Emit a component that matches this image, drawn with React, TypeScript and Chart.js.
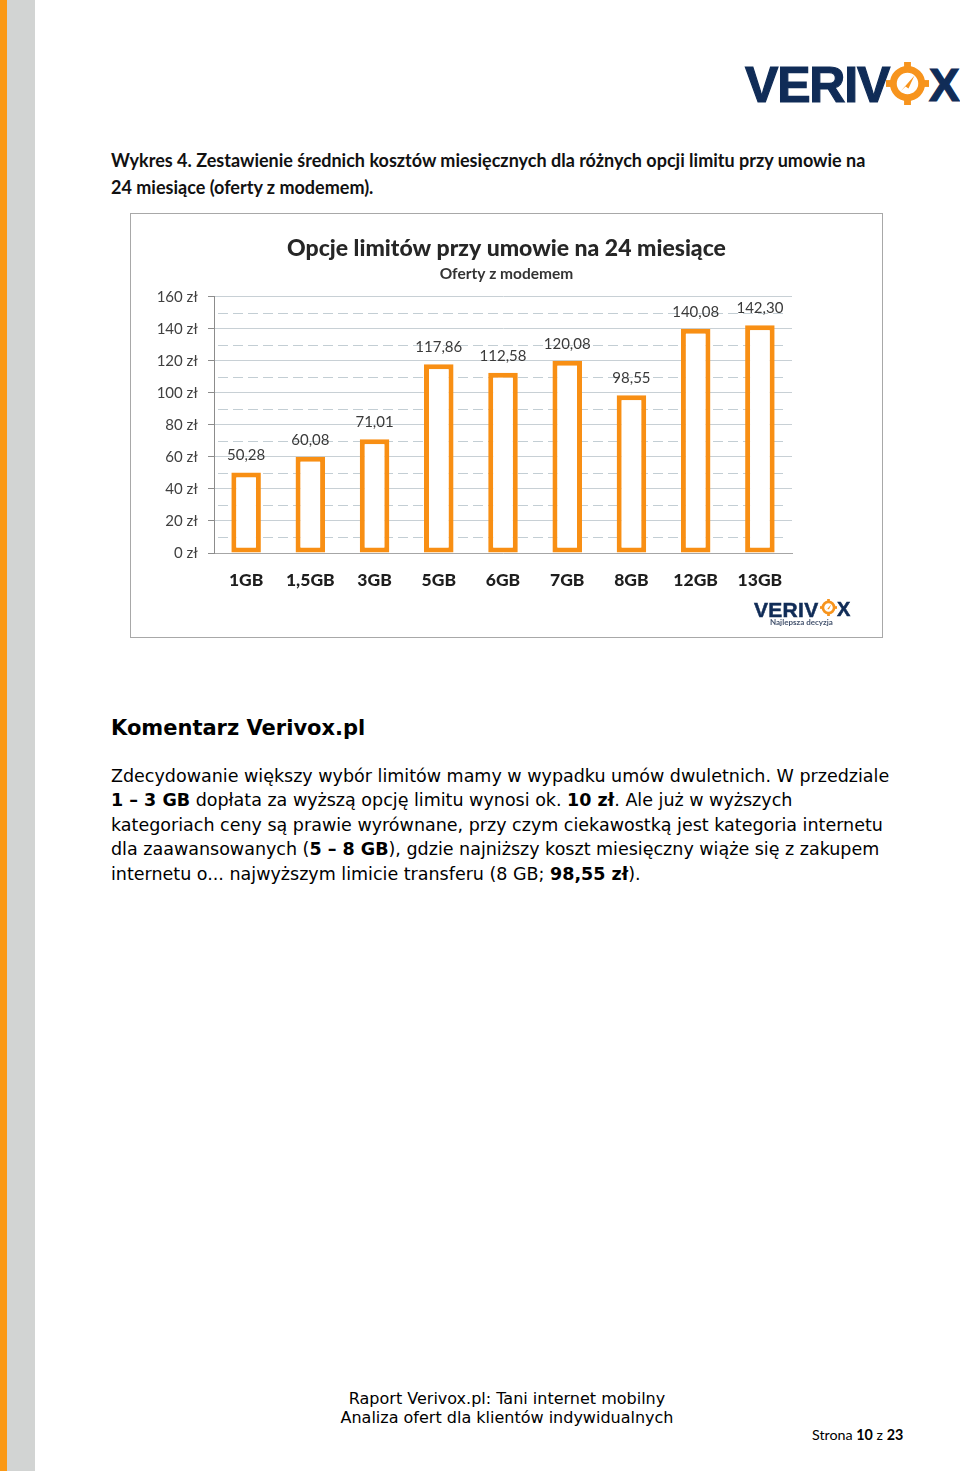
import React, { useEffect, useRef } from 'react';
import { Chart, registerables } from 'chart.js';

Chart.register(...registerables);

// ---- data ----
const categories = ['1GB', '1,5GB', '3GB', '5GB', '6GB', '7GB', '8GB', '12GB', '13GB'];
const monthlyCost = [50.28, 60.08, 71.01, 117.86, 112.58, 120.08, 98.55, 140.08, 142.3];
const yMax = 160;
const yStep = 10;
const yLabelStep = 20;
const chartTitle = 'Opcje limitów przy umowie na 24 miesiące';
const chartSubtitle = 'Oferty z modemem';

const ORANGE = '#f88f14';
const NAVY = '#102c57';
const LOGO_ORANGE = '#f7941d';

const fmt = (v: number) => v.toFixed(2).replace('.', ',');

const valueLabels = {
  id: 'valueLabels',
  afterDatasetsDraw(chart: any) {
    const { ctx } = chart;
    const meta = chart.getDatasetMeta(0);
    ctx.save();
    ctx.font = '15px Lato';
    ctx.fillStyle = '#3a3a3a';
    ctx.textAlign = 'center';
    ctx.textBaseline = 'middle';
    meta.data.forEach((bar: any, i: number) => {
      const v = chart.data.datasets[0].data[i] as number;
      ctx.fillText(fmt(v), bar.x, bar.y - 17);
    });
    ctx.restore();
  },
};

const dashedMinorGrid = {
  id: 'dashedMinorGrid',
  beforeDatasetsDraw(chart: any) {
    const { ctx, chartArea, scales } = chart;
    const y = scales.y;
    ctx.save();
    ctx.strokeStyle = '#c3ced4';
    ctx.lineWidth = 1;
    ctx.setLineDash([10, 5]);
    y.ticks.forEach((t: any) => {
      if (t.value % yLabelStep !== 0) {
        const py = Math.round(y.getPixelForValue(t.value)) + 0.5;
        ctx.beginPath();
        ctx.moveTo(chartArea.left + 4, py);
        ctx.lineTo(chartArea.right - 4, py);
        ctx.stroke();
      }
    });
    ctx.restore();
  },
};

function CostChart() {
  const ref = useRef<HTMLCanvasElement | null>(null);
  useEffect(() => {
    let chart: Chart | null = null;
    let cancelled = false;
    const build = () => {
      if (cancelled || !ref.current) return;
      chart = new Chart(ref.current, {
        type: 'bar',
        data: {
          labels: categories,
          datasets: [
            {
              data: monthlyCost,
              backgroundColor: '#ffffff',
              borderColor: ORANGE,
              borderWidth: 5,
              borderSkipped: false,
              categoryPercentage: 1,
              barPercentage: 0.46,
            },
          ],
        },
        options: {
          animation: false,
          responsive: false,
          maintainAspectRatio: false,
          layout: { padding: 0 },
          plugins: {
            legend: { display: false },
            tooltip: { enabled: false },
            title: {
              display: true,
              text: chartTitle,
              color: '#262626',
              font: { family: 'Lato', size: 23, weight: 900 },
              padding: { top: 20.7, bottom: 1 },
            },
            subtitle: {
              display: true,
              text: chartSubtitle,
              color: '#333333',
              font: { family: 'Lato', size: 15.5, weight: 'bold' },
              padding: { top: 1.5, bottom: 13.5 },
            },
          },
          scales: {
            x: {
              afterFit: (s: any) => {
                s.height = 84;
              },
              grid: { display: true, drawOnChartArea: false, drawTicks: false },
              border: { display: true, color: '#a6a6a6' },
              ticks: {
                padding: 17,
                color: '#1e1e1e',
                autoSkip: false,
                maxRotation: 0,
                font: { family: 'Lato', size: 17.5, weight: 900 },
              },
            },
            y: {
              min: 0,
              max: yMax,
              afterFit: (s: any) => {
                s.width = 83;
              },
              ticks: {
                stepSize: yStep,
                autoSkip: false,
                padding: 10,
                color: '#404040',
                font: { family: 'Lato', size: 15 },
                callback: (v: any) => (Number(v) % yLabelStep === 0 ? `${v} zł` : ''),
              },
              grid: {
                color: (c: any) => (c.tick && c.tick.value % yLabelStep === 0 ? '#c8d0d5' : 'rgba(0,0,0,0)'),
                tickColor: (c: any) => (c.tick && c.tick.value % yLabelStep === 0 ? '#8c8c8c' : 'rgba(0,0,0,0)'),
                tickLength: 6,
                drawTicks: true,
              },
              border: { display: true, color: '#8c8c8c' },
            },
            yRightSpace: {
              type: 'linear',
              position: 'right',
              display: true,
              min: 0,
              max: yMax,
              afterFit: (s: any) => {
                s.width = 90;
              },
              ticks: { display: false },
              grid: { display: false, drawTicks: false },
              border: { display: false },
            },
          },
        },
        plugins: [dashedMinorGrid, valueLabels],
      } as any);
    };
    const fonts: any = (document as any).fonts;
    if (fonts && fonts.load) {
      Promise.all([
        fonts.load('900 23px Lato'),
        fonts.load('900 17px Lato'),
        fonts.load('bold 15px Lato'),
        fonts.load('15px Lato'),
      ])
        .catch(() => null)
        .then(build);
    } else {
      build();
    }
    return () => {
      cancelled = true;
      if (chart) chart.destroy();
    };
  }, []);
  return <canvas ref={ref} width={751} height={423} style={{ display: 'block', width: 751, height: 423 }} />;
}

function Compass({ size }: { size: number }) {
  return (
    <svg width={size} height={size} viewBox="0 0 44 44" style={{ display: 'block' }}>
      <circle cx="22" cy="22" r="14.5" fill="none" stroke={LOGO_ORANGE} strokeWidth="7" />
      <rect x="18.5" y="0" width="7" height="6" fill={LOGO_ORANGE} />
      <rect x="18.5" y="38" width="7" height="6" fill={LOGO_ORANGE} />
      <rect x="0" y="18.5" width="6" height="7" fill={LOGO_ORANGE} />
      <rect x="38" y="18.5" width="6" height="7" fill={LOGO_ORANGE} />
      <polygon points="15,30 29,14 23,27 20,25" fill={LOGO_ORANGE} />
    </svg>
  );
}

const abs = (left: number, top: number, extra: React.CSSProperties = {}): React.CSSProperties => ({
  position: 'absolute',
  left,
  top,
  whiteSpace: 'pre',
  ...extra,
});

const bodyLines: React.ReactNode[] = [
  <>Zdecydowanie większy wybór limitów mamy w wypadku umów dwuletnich. W przedziale</>,
  <>
    <b>1 – 3 GB</b> dopłata za wyższą opcję limitu wynosi ok. <b>10 zł</b>. Ale już w wyższych
  </>,
  <>kategoriach ceny są prawie wyrównane, przy czym ciekawostką jest kategoria internetu</>,
  <>
    dla zaawansowanych (<b>5 – 8 GB</b>), gdzie najniższy koszt miesięczny wiąże się z zakupem
  </>,
  <>
    internetu o... najwyższym limicie transferu (8 GB; <b>98,55 zł</b>).
  </>,
];

export default function App() {
  return (
    <div
      style={{
        position: 'absolute',
        left: 0,
        top: 0,
        width: 960,
        height: 1471,
        background: '#ffffff',
        overflow: 'hidden',
        color: '#000',
      }}
    >
      {/* side stripes */}
      <div style={abs(0, 0, { width: 7, height: 1471, background: '#fa9916' })} />
      <div style={abs(7, 0, { width: 28, height: 1471, background: '#d2d4d3' })} />

      {/* top logo */}
      <div
        style={abs(745, 59.5, {
          fontFamily: 'Liberation Sans',
          fontWeight: 'bold',
          fontSize: 50,
          lineHeight: '50px',
          letterSpacing: -1.2,
          color: NAVY,
          WebkitTextStroke: `1.2px ${NAVY}`,
        })}
      >
        VERIV
      </div>
      <div style={abs(886, 62)}>
        <Compass size={43} />
      </div>
      <div
        style={abs(929, 59.5, {
          fontFamily: 'Liberation Sans',
          fontWeight: 'bold',
          fontSize: 46,
          lineHeight: '50px',
          color: NAVY,
          WebkitTextStroke: `1.2px ${NAVY}`,
        })}
      >
        X
      </div>

      {/* caption */}
      <div
        style={abs(111, 146.5, {
          fontFamily: 'Lato',
          fontWeight: 'bold',
          fontSize: 18,
          lineHeight: '27px',
          color: '#111',
        })}
      >
        {'Wykres 4. Zestawienie średnich kosztów miesięcznych dla różnych opcji limitu przy umowie na\n24 miesiące (oferty z modemem).'}
      </div>

      {/* chart box */}
      <div
        style={abs(130, 213, {
          width: 753,
          height: 425,
          boxSizing: 'border-box',
          border: '1px solid #a8a8a8',
          background: '#fff',
        })}
      >
        <CostChart />
        {/* small logo inside chart */}
        <div
          style={abs(623, 384.5, {
            fontFamily: 'Liberation Sans',
            fontWeight: 'bold',
            fontSize: 21,
            lineHeight: '21px',
            letterSpacing: 0.3,
            color: NAVY,
            WebkitTextStroke: `0.5px ${NAVY}`,
          })}
        >
          VERIV
        </div>
        <div style={abs(689, 385)}>
          <Compass size={17} />
        </div>
        <div
          style={abs(706, 384.5, {
            fontFamily: 'Liberation Sans',
            fontWeight: 'bold',
            fontSize: 20,
            lineHeight: '21px',
            color: NAVY,
            WebkitTextStroke: `0.5px ${NAVY}`,
          })}
        >
          X
        </div>
        <div
          style={abs(639, 403, {
            fontFamily: 'Lato',
            fontWeight: 'bold',
            fontSize: 8,
            lineHeight: '10px',
            color: '#44536e',
          })}
        >
          Najlepsza decyzja
        </div>
      </div>

      {/* comment */}
      <div
        style={abs(111, 714, {
          fontFamily: 'DejaVu Sans',
          fontWeight: 'bold',
          fontSize: 21,
          lineHeight: '28px',
          color: '#000',
        })}
      >
        Komentarz Verivox.pl
      </div>
      <div
        style={abs(111, 763.75, {
          fontFamily: 'DejaVu Sans',
          fontSize: 17.5,
          lineHeight: '24.5px',
          color: '#000',
        })}
      >
        {bodyLines.map((l, i) => (
          <div key={i}>{l}</div>
        ))}
      </div>

      {/* footer */}
      <div
        style={{
          position: 'absolute',
          left: 257,
          width: 500,
          top: 1388.5,
          textAlign: 'center',
          fontFamily: 'DejaVu Sans',
          fontSize: 16,
          lineHeight: '19px',
          color: '#000',
          whiteSpace: 'pre',
        }}
      >
        {'Raport Verivox.pl: Tani internet mobilny\nAnaliza ofert dla klientów indywidualnych'}
      </div>
      <div
        style={abs(812, 1426, {
          fontFamily: 'Lato',
          fontSize: 14.3,
          lineHeight: '18px',
          color: '#000',
        })}
      >
        Strona <b>10</b> z <b>23</b>
      </div>
    </div>
  );
}
